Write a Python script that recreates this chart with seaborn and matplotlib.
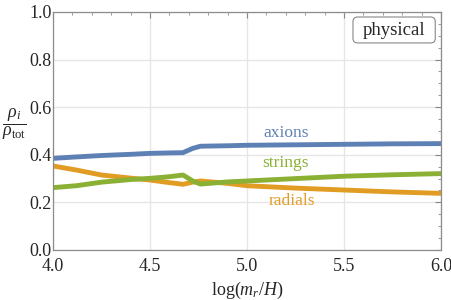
import matplotlib
matplotlib.use("Agg")
import matplotlib.pyplot as plt
import seaborn as sns
import pandas as pd
from matplotlib.ticker import MultipleLocator
from matplotlib.patches import FancyBboxPatch

# values
log_mr_H = [4.0, 4.12, 4.25, 4.4, 4.5, 4.6, 4.67, 4.72, 4.76, 4.9, 5.0, 5.25, 5.5, 5.75, 6.0]
axions = [0.385, 0.391, 0.397, 0.402, 0.406, 0.408, 0.409, 0.427, 0.436, 0.438, 0.440, 0.442, 0.444, 0.446, 0.447]
strings = [0.262, 0.270, 0.285, 0.296, 0.301, 0.308, 0.315, 0.290, 0.277, 0.286, 0.290, 0.300, 0.310, 0.316, 0.321]
radials = [0.353, 0.336, 0.315, 0.302, 0.294, 0.283, 0.276, 0.285, 0.290, 0.280, 0.270, 0.260, 0.252, 0.244, 0.238]

df = pd.DataFrame({"x": log_mr_H, "axions": axions, "strings": strings, "radials": radials})
long_df = df.melt(id_vars="x", var_name="component", value_name="frac")

colors = {"axions": "#5E81B5", "radials": "#E19C24", "strings": "#8AB034"}

sns.set_style("white")
plt.rcParams["font.family"] = ["Liberation Serif", "DejaVu Serif"]
plt.rcParams["mathtext.fontset"] = "custom"
plt.rcParams["mathtext.rm"] = "Liberation Serif"
plt.rcParams["mathtext.it"] = "Liberation Serif:italic"

fig = plt.figure(figsize=(4.51, 3.0), dpi=100)
ax = fig.add_axes([0.1175, 0.1667, 0.8605, 0.7933])

sns.lineplot(data=long_df, x="x", y="frac", hue="component",
             hue_order=["axions", "radials", "strings"], palette=colors,
             linewidth=3.5, legend=False, ax=ax)

ax.set_xlim(4.0, 6.0)
ax.set_ylim(0.0, 1.0)
ax.xaxis.set_major_locator(MultipleLocator(0.5))
ax.xaxis.set_minor_locator(MultipleLocator(0.1))
ax.yaxis.set_major_locator(MultipleLocator(0.2))
ax.yaxis.set_minor_locator(MultipleLocator(0.05))
ax.xaxis.set_major_formatter(matplotlib.ticker.FormatStrFormatter("%.1f"))
ax.yaxis.set_major_formatter(matplotlib.ticker.FormatStrFormatter("%.1f"))
ax.grid(True, which="major", color="#E6E6E6", linewidth=1.0)
ax.tick_params(which="both", direction="in", top=True, right=True, color="#888888",
               labelsize=13)
ax.tick_params(axis="x", pad=6)
ax.tick_params(axis="y", pad=1)
ax.tick_params(which="major", length=4)
ax.tick_params(which="minor", length=2.5)
for s in ax.spines.values():
    s.set_color("#8C8C8C")
    s.set_linewidth(0.9)

ax.set_xlabel(r"$\mathrm{log}(m_r/H)$", fontsize=13, va="center")
ax.xaxis.set_label_coords(0.5, -0.168)
ax.set_ylabel(r"$\dfrac{\rho_i}{\rho_{\rm tot}}$", fontsize=13, rotation=0,
              ha="center", va="center")
ax.yaxis.set_label_coords(-0.1, 0.53)

ax.text(5.2, 0.49, "axions", color=colors["axions"], fontsize=12.5, ha="center", va="center")
ax.text(5.2, 0.366, "strings", color=colors["strings"], fontsize=12.5, ha="center", va="center")
ax.text(5.23, 0.206, "radials", color=colors["radials"], fontsize=12.5, ha="center", va="center")

# "physical" label box
ax.add_patch(FancyBboxPatch((0.773, 0.870), 0.212, 0.109, transform=ax.transAxes,
                            boxstyle="round,pad=0,rounding_size=0.012",
                            mutation_aspect=388 / 238, fc="white", ec="#888888",
                            lw=0.8, zorder=5))
ax.text(0.879, 0.922, "physical", transform=ax.transAxes, fontsize=13.5,
        ha="center", va="center", zorder=6)

fig.savefig("out.png", dpi=100)
